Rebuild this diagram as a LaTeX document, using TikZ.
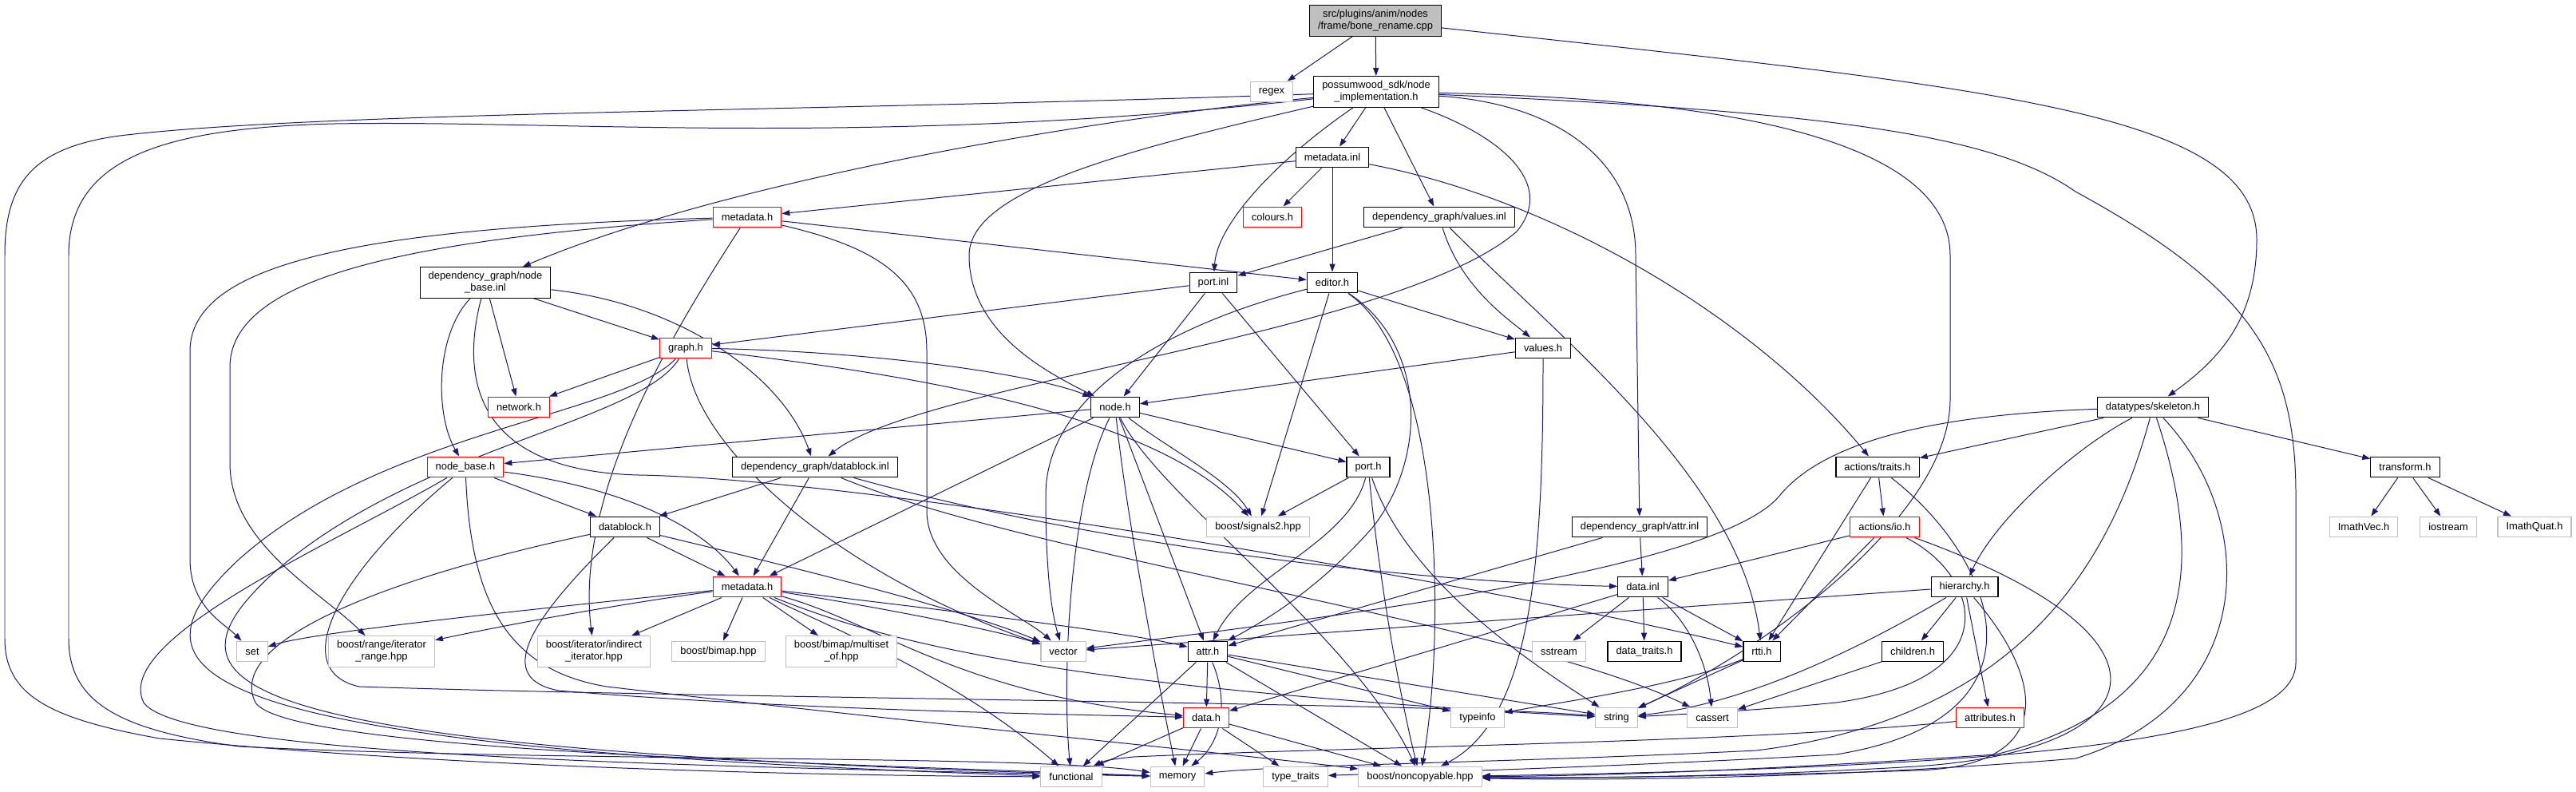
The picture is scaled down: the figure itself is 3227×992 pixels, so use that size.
\documentclass[tikz,border=0pt]{standalone}
\usepackage{fontspec}
\setmainfont{Liberation Sans}
\usetikzlibrary{arrows.meta}
\pgfdeclarelayer{back}
\pgfsetlayers{back,main}
\definecolor{edgeblue}{HTML}{191970}
\definecolor{sysgray}{HTML}{BFBFBF}

\begin{document}
\begin{tikzpicture}[x=0.03cm, y=-0.03cm,
  every node/.style={font=\fontsize{11}{12.8}\selectfont, align=center, inner xsep=9pt, inner ysep=5pt, minimum height=22pt, fill=white},
  hdr/.style={draw=black, line width=1pt},
  sys/.style={draw=sysgray, line width=1pt},
  cut/.style={draw=red, line width=1pt},
  root/.style={draw=black, line width=1pt, fill=sysgray},
  dep/.style={edgeblue, line width=0.85pt, -{Triangle[length=8.5pt,width=6pt]}}]
  \useasboundingbox (0,0) rectangle (3227,992);

  \node [root] (bone) at (1723,26) {src/plugins/anim/nodes\\/frame/bone\_rename.cpp};
  \node [sys] (regex) at (1593,115) {regex};
  \node [hdr] (impl) at (1724,115) {possumwood\_sdk/node\\\_implementation.h};
  \node [hdr] (metainl) at (1669,197) {metadata.inl};
  \node [cut] (metah) at (936,272) {metadata.h};
  \node [cut] (colours) at (1594,272) {colours.h};
  \node [hdr] (valuesinl) at (1803,272) {dependency\_graph/values.inl};
  \node [hdr] (nodebaseinl) at (608,354) {dependency\_graph/node\\\_base.inl};
  \node [hdr] (portinl) at (1520,354) {port.inl};
  \node [hdr] (editor) at (1669,354) {editor.h};
  \node [cut] (graph) at (859,436) {graph.h};
  \node [hdr] (valuesh) at (1933,436) {values.h};
  \node [cut] (network) at (650,510) {network.h};
  \node [hdr] (nodeh) at (1397,510) {node.h};
  \node [hdr] (skeleton) at (2697,510) {datatypes/skeleton.h};
  \node [cut] (nodebaseh) at (583,585) {node\_base.h};
  \node [hdr] (datablockinl) at (1021,585) {dependency\_graph/datablock.inl};
  \node [hdr] (porth) at (1714,585) {port.h};
  \node [hdr] (traits) at (2352,585) {actions/traits.h};
  \node [hdr] (transform) at (3013,585) {transform.h};
  \node [hdr] (datablockh) at (783,660) {datablock.h};
  \node [sys] (signals) at (1576,660) {boost/signals2.hpp};
  \node [hdr] (attrinl) at (2054,660) {dependency\_graph/attr.inl};
  \node [cut] (io) at (2361,660) {actions/io.h};
  \node [sys] (imathvec) at (2961,660) {ImathVec.h};
  \node [sys] (iostream) at (3067,660) {iostream};
  \node [sys] (imathquat) at (3175,660) {ImathQuat.h};
  \node [cut] (metadh) at (936,735) {metadata.h};
  \node [hdr] (datainl) at (2058,735) {data.inl};
  \node [hdr] (hierarchy) at (2461,735) {hierarchy.h};
  \node [sys] (set) at (316,816) {set};
  \node [sys] (itrange) at (478,816) {boost/range/iterator\\\_range.hpp};
  \node [sys] (indirect) at (744,816) {boost/iterator/indirect\\\_iterator.hpp};
  \node [sys] (bimap) at (900,816) {boost/bimap.hpp};
  \node [sys] (multiset) at (1054,816) {boost/bimap/multiset\\\_of.hpp};
  \node [sys] (vector) at (1332,816) {vector};
  \node [hdr] (attrh) at (1513,816) {attr.h};
  \node [sys] (sstream) at (1953,816) {sstream};
  \node [hdr] (datatraits) at (2060,816) {data\_traits.h};
  \node [hdr] (rtti) at (2207,816) {rtti.h};
  \node [hdr] (children) at (2396,816) {children.h};
  \node [cut] (datah) at (1511,899) {data.h};
  \node [sys] (typeinfo) at (1851,899) {typeinfo};
  \node [sys] (string) at (2025,899) {string};
  \node [sys] (cassert) at (2145,899) {cassert};
  \node [cut] (attributes) at (2493,899) {attributes.h};
  \node [sys] (functional) at (1342,973) {functional};
  \node [sys] (memory) at (1475,973) {memory};
  \node [sys] (typetraits) at (1623,973) {type\_traits};
  \node [sys] (noncopyable) at (1779,973) {boost/noncopyable.hpp};

  \begin{pgfonlayer}{back}
  \draw [dep] (bone) -- (regex);
  \draw [dep] (bone) -- (impl);
  \draw [dep] (bone) .. controls (2500,110) and (2827,140) .. (2827,300) .. controls (2827,400) and (2780,450) .. (skeleton);

  \draw [dep] (impl) .. controls (1000,140) and (400,140) .. (150,170) .. controls (40,185) and (6,230) .. (6,320) -- (6,800) .. controls (6,870) and (60,900) .. (200,925) .. controls (600,965) and (1100,972) .. (functional);
  \draw [dep] (impl) .. controls (1100,185) and (700,150) .. (420,155) .. controls (200,160) and (86,200) .. (86,320) -- (86,800) .. controls (86,880) and (150,915) .. (300,935) .. controls (700,955) and (1300,945) .. (memory);
  \draw [dep] (impl) .. controls (1350,150) and (900,230) .. (nodebaseinl);
  \draw [dep] (impl) .. controls (1400,190) and (1214,240) .. (1214,320) .. controls (1214,420) and (1320,470) .. (nodeh);
  \draw [dep] (impl) .. controls (1600,200) and (1525,280) .. (portinl);
  \draw [dep] (impl) -- (metainl);
  \draw [dep] (impl) -- (valuesinl);
  \draw [dep] (impl) .. controls (1880,170) and (1950,230) .. (1900,290) .. controls (1750,420) and (1150,480) .. (datablockinl);
  \draw [dep] (impl) .. controls (1950,130) and (2049,200) .. (2049,320) -- (attrinl);
  \draw [dep] (impl) .. controls (2250,125) and (2443,200) .. (2443,320) -- (2443,500) .. controls (2443,650) and (2200,820) .. (string);
  \draw [dep] (impl) .. controls (2300,140) and (2500,170) .. (2600,240) .. controls (2820,360) and (2876,450) .. (2876,620) -- (2876,830) .. controls (2876,920) and (2600,960) .. (noncopyable);

  \draw [dep] (metainl) -- (metah);
  \draw [dep] (metainl) -- (colours);
  \draw [dep] (metainl) -- (editor);
  \draw [dep] (metainl) .. controls (1950,250) and (2200,400) .. (traits);

  \draw [dep] (metah) -- (editor);
  \draw [dep] (metah) .. controls (450,285) and (238,330) .. (238,440) -- (238,700) .. controls (238,760) and (280,780) .. (set);
  \draw [dep] (metah) .. controls (500,300) and (288,350) .. (288,460) -- (288,580) .. controls (288,680) and (400,740) .. (itrange);
  \draw [dep] (metah) .. controls (840,420) and (720,620) .. (indirect);
  \draw [dep] (metah) .. controls (1100,310) and (1161,350) .. (1161,440) -- (1161,640) .. controls (1161,720) and (1280,770) .. (vector);

  \draw [dep] (nodebaseinl) .. controls (545,420) and (545,520) .. (nodebaseh);
  \draw [dep] (nodebaseinl) -- (network);
  \draw [dep] (nodebaseinl) -- (graph);
  \draw [dep] (nodebaseinl) .. controls (850,380) and (980,470) .. (datablockinl);
  \draw [dep] (nodebaseinl) .. controls (575,480) and (600,590) .. (800,595) .. controls (1100,600) and (1900,740) .. (rtti);

  \draw [dep] (graph) -- (network);
  \draw [dep] (graph) .. controls (1100,440) and (1300,470) .. (nodeh);
  \draw [dep] (graph) .. controls (1150,470) and (1450,520) .. (signals);
  \draw [dep] (graph) .. controls (870,560) and (1050,720) .. (vector);
  \draw [dep] (graph) .. controls (780,520) and (480,540) .. (300,700) .. controls (150,840) and (200,935) .. (functional);
  \draw [dep] (graph) .. controls (800,530) and (520,560) .. (340,720) .. controls (190,860) and (260,940) .. (memory);

  \draw [dep] (nodeh) -- (nodebaseh);
  \draw [dep] (nodeh) -- (metadh);
  \draw [dep] (nodeh) .. controls (1340,620) and (1330,850) .. (functional);
  \draw [dep] (nodeh) .. controls (1410,640) and (1450,850) .. (memory);
  \draw [dep] (nodeh) -- (attrh);
  \draw [dep] (nodeh) .. controls (1460,560) and (1540,600) .. (signals);
  \draw [dep] (nodeh) -- (porth);
  \draw [dep] (nodeh) .. controls (1450,620) and (1700,800) .. (noncopyable);

  \draw [dep] (portinl) -- (nodeh);
  \draw [dep] (portinl) -- (graph);
  \draw [dep] (portinl) -- (porth);

  \draw [dep] (valuesinl) -- (portinl);
  \draw [dep] (valuesinl) .. controls (1830,360) and (1890,400) .. (valuesh);
  \draw [dep] (valuesinl) .. controls (1950,420) and (2180,600) .. (rtti);

  \draw [dep] (editor) -- (valuesh);
  \draw [dep] (editor) .. controls (1450,410) and (1310,500) .. (1310,620) .. controls (1310,700) and (1315,760) .. (vector);
  \draw [dep] (editor) -- (signals);
  \draw [dep] (editor) .. controls (1785,430) and (1790,570) .. (1720,660) .. controls (1650,740) and (1580,780) .. (attrh);
  \draw [dep] (editor) .. controls (1810,450) and (1810,800) .. (noncopyable);

  \draw [dep] (valuesh) -- (nodeh);
  \draw [dep] (valuesh) .. controls (1933,700) and (1920,900) .. (noncopyable);

  \draw [dep] (nodebaseh) -- (datablockh);
  \draw [dep] (nodebaseh) .. controls (780,610) and (880,660) .. (metadh);
  \draw [dep] (nodebaseh) .. controls (420,680) and (140,800) .. (180,880) .. controls (230,950) and (900,960) .. (memory);
  \draw [dep] (nodebaseh) .. controls (420,720) and (360,840) .. (450,860) .. controls (900,875) and (1800,880) .. (string);
  \draw [dep] (nodebaseh) .. controls (590,760) and (640,840) .. (760,860) .. controls (1100,900) and (1600,950) .. (noncopyable);

  \draw [dep] (datablockh) -- (metadh);
  \draw [dep] (datablockh) .. controls (950,700) and (1200,760) .. (vector);
  \draw [dep] (datablockh) .. controls (500,720) and (280,800) .. (320,880) .. controls (360,940) and (1000,955) .. (memory);
  \draw [dep] (datablockh) .. controls (660,780) and (620,850) .. (700,865) .. controls (1000,890) and (1350,895) .. (datah);

  \draw [dep] (datablockinl) -- (datablockh);
  \draw [dep] (datablockinl) -- (metadh);
  \draw [dep] (datablockinl) .. controls (1400,690) and (1800,730) .. (datainl);
  \draw [dep] (datablockinl) .. controls (1300,700) and (1900,780) .. (cassert);

  \draw [dep] (porth) -- (signals);
  \draw [dep] (porth) .. controls (1690,680) and (1560,720) .. (attrh);
  \draw [dep] (porth) .. controls (1730,750) and (1760,900) .. (noncopyable);
  \draw [dep] (porth) .. controls (1760,720) and (1900,820) .. (string);

  \draw [dep] (attrinl) -- (attrh);
  \draw [dep] (attrinl) -- (datainl);

  \draw [dep] (metadh) .. controls (700,760) and (400,790) .. (set);
  \draw [dep] (metadh) .. controls (750,760) and (600,790) .. (itrange);
  \draw [dep] (metadh) -- (indirect);
  \draw [dep] (metadh) -- (bimap);
  \draw [dep] (metadh) -- (multiset);
  \draw [dep] (metadh) .. controls (1100,760) and (1250,790) .. (vector);
  \draw [dep] (metadh) .. controls (1150,760) and (1400,790) .. (attrh);
  \draw [dep] (metadh) .. controls (1100,780) and (1200,870) .. (datah);
  \draw [dep] (metadh) .. controls (1100,800) and (1300,860) .. (string);
  \draw [dep] (metadh) .. controls (1050,790) and (1200,850) .. (functional);

  \draw [dep] (attrh) -- (datah);
  \draw [dep] (attrh) -- (functional);
  \draw [dep] (attrh) .. controls (1540,880) and (1530,930) .. (memory);
  \draw [dep] (attrh) -- (noncopyable);
  \draw [dep] (attrh) -- (typeinfo);
  \draw [dep] (attrh) -- (string);

  \draw [dep] (datah) -- (functional);
  \draw [dep] (datah) -- (memory);
  \draw [dep] (datah) -- (typetraits);
  \draw [dep] (datah) -- (noncopyable);

  \draw [dep] (datainl) -- (datah);
  \draw [dep] (datainl) -- (sstream);
  \draw [dep] (datainl) -- (datatraits);
  \draw [dep] (datainl) -- (rtti);
  \draw [dep] (datainl) .. controls (2120,780) and (2140,840) .. (cassert);

  \draw [dep] (rtti) -- (string);
  \draw [dep] (rtti) .. controls (2100,860) and (1950,880) .. (typeinfo);

  \draw [dep] (children) -- (cassert);

  \draw [dep] (hierarchy) -- (vector);
  \draw [dep] (hierarchy) -- (children);
  \draw [dep] (hierarchy) -- (attributes);
  \draw [dep] (hierarchy) .. controls (2350,800) and (2200,880) .. (string);
  \draw [dep] (hierarchy) .. controls (2560,850) and (2580,960) .. (2400,965) .. controls (2200,972) and (1950,975) .. (noncopyable);

  \draw [dep] (attributes) .. controls (2200,930) and (1700,935) .. (1420,948) .. controls (1400,950) and (1385,952) .. (functional);

  \draw [dep] (traits) -- (io);
  \draw [dep] (traits) -- (rtti);
  \draw [dep] (traits) .. controls (2500,700) and (2580,900) .. (2300,945) .. controls (2000,962) and (1750,968) .. (typetraits);

  \draw [dep] (io) -- (datainl);
  \draw [dep] (io) -- (rtti);
  \draw [dep] (io) .. controls (2480,720) and (2520,850) .. (2300,880) .. controls (2200,890) and (2100,895) .. (string);
  \draw [dep] (io) .. controls (2750,800) and (2700,940) .. (2400,960) .. controls (2200,972) and (2000,975) .. (noncopyable);

  \draw [dep] (skeleton) -- (traits);
  \draw [dep] (skeleton) -- (transform);
  \draw [dep] (skeleton) .. controls (2600,560) and (2500,650) .. (hierarchy);
  \draw [dep] (skeleton) .. controls (2400,520) and (2280,560) .. (2230,620) .. controls (2150,720) and (1600,780) .. (vector);
  \draw [dep] (skeleton) .. controls (2640,720) and (2520,900) .. (2200,940) .. controls (1900,955) and (1600,958) .. (memory);
  \draw [dep] (skeleton) .. controls (2760,700) and (2760,880) .. (2500,945) .. controls (2200,965) and (2000,972) .. (noncopyable);
  \draw [dep] (skeleton) .. controls (2830,650) and (2830,880) .. (2600,950) .. controls (2300,975) and (2000,978) .. (noncopyable);

  \draw [dep] (transform) -- (imathvec);
  \draw [dep] (transform) -- (iostream);
  \draw [dep] (transform) -- (imathquat);
  \end{pgfonlayer}
\end{tikzpicture}
\end{document}
